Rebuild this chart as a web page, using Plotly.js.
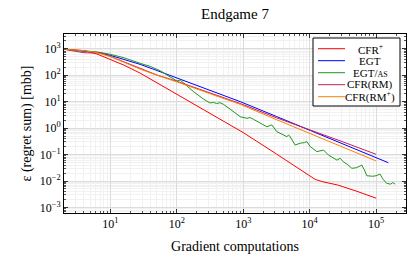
<!DOCTYPE html>
<html><head><meta charset="utf-8">
<script src="https://cdn.plot.ly/plotly-3.0.1.min.js"></script>
<style>html,body{margin:0;padding:0;background:#fff}</style>
</head><body><div id="chart" style="width:408px;height:259px"></div>
<script>
// ---- data ----
const seriesNames = ['CFR<sup>+</sup>', 'EGT', 'EGT/<span style="font-size:8px">AS</span>', 'CFR(RM)', 'CFR(RM<sup>+</sup>)'];
const seriesColors = ['#ff0000', '#0000ff', '#1f961f', '#bf2060', '#ff8000'];

const cfrPlusX = [2, 4, 6.3, 10, 16, 28, 100, 316, 1000, 3160, 7200, 12100, 15800, 26200, 50100, 100000];
const cfrPlusY = [955, 851, 631, 398, 240, 120, 19.1, 3.72, 0.676, 0.105, 0.0269, 0.0115, 0.00933, 0.00708, 0.00417, 0.00224];

const egtX = [2, 4, 6.3, 10, 16, 28, 50, 100, 316, 900, 3160, 10000, 31600, 153000];
const egtY = [955, 832, 724, 562, 398, 257, 151, 79.4, 26.9, 10.0, 2.75, 0.832, 0.251, 0.049];

const egtAsX = [2, 4, 6.3, 10, 16, 28, 40, 56, 71, 89, 100, 112, 126, 178, 251, 316, 355, 398, 447, 501, 631, 804, 902,
  1138, 1259, 1429, 1778, 2270, 2692, 3214, 3981, 4539, 4786, 5012, 6026, 7194, 8318, 9078, 10186, 12823, 16144,
  19187, 22387, 25704, 28774, 31989, 36308, 43152, 50119, 56234, 60954, 67608, 72444, 89125, 100000, 114815,
  125893, 144544, 165959, 177828, 193197];
const egtAsY = [955, 851, 759, 617, 457, 282, 214, 148, 105, 75.9, 60.3, 66.1, 50.1, 24.0, 12.6, 8.91, 9.33, 8.51, 9.12, 7.94, 5.25, 3.16, 2.69,
  2.34, 2.51, 2.14, 1.58, 1.12, 1.32, 0.724, 0.562, 0.468, 0.550, 0.501, 0.229, 0.269, 0.282, 0.309, 0.200, 0.129, 0.148,
  0.0955, 0.0759, 0.0617, 0.0724, 0.0537, 0.0437, 0.0302, 0.0316, 0.0355, 0.0398, 0.0240, 0.0158, 0.0151, 0.0158, 0.0182,
  0.0120, 0.00813, 0.00759, 0.00871, 0.00759];

const cfrRmX = [2, 2.82, 4, 5.62, 7.08, 10, 16, 28, 50, 100, 316, 900, 3160, 14400, 31600, 100000];
const cfrRmY = [955, 813, 708, 692, 708, 513, 316, 174, 102, 58.9, 21.4, 8.51, 2.45, 0.631, 0.302, 0.102];

const cfrRmPlusX = [2, 4, 6.3, 10, 16, 28, 50, 100, 316, 900, 3160, 10000, 31600, 100000];
const cfrRmPlusY = [955, 851, 708, 501, 309, 170, 100, 56.2, 19.95, 7.94, 2.09, 0.631, 0.191, 0.0575];

const xTickVals = [10, 100, 1000, 10000, 100000];
const xTickText = ['10<sup>1</sup>', '10<sup>2</sup>', '10<sup>3</sup>', '10<sup>4</sup>', '10<sup>5</sup>'];
const yTickVals = [0.001, 0.01, 0.1, 1, 10, 100, 1000];
const yTickText = ['10<sup>−3</sup>', '10<sup>−2</sup>', '10<sup>−1</sup>', '10<sup>0</sup>', '10<sup>1</sup>', '10<sup>2</sup>', '10<sup>3</sup>'];

// ---- build ----
const xs = [cfrPlusX, egtX, egtAsX, cfrRmX, cfrRmPlusX];
const ys = [cfrPlusY, egtY, egtAsY, cfrRmY, cfrRmPlusY];
const traces = xs.map((x, i) => ({
  x: x, y: ys[i], type: 'scatter', mode: 'lines', name: seriesNames[i],
  line: {color: seriesColors[i], width: 1}, showlegend: false, hoverinfo: 'skip'
}));

function minorVals(lo, hi) {
  const v = [];
  for (let n = lo; n <= hi; n++) for (let k = 2; k <= 9; k++) v.push(k * Math.pow(10, n));
  return v;
}

// legend geometry (plot area px: x 64..406, y 34..213)
const L = 64, W = 342, T = 34, H = 179;
const px = p => (p - L) / W;
const py = p => (T + H - p) / H;
const shapes = [{type: 'rect', xref: 'paper', yref: 'paper', x0: px(313), x1: px(400), y0: py(106), y1: py(38),
  line: {color: '#000', width: 1}, fillcolor: '#fff', layer: 'above'}];
const annotations = [];
seriesNames.forEach((nm, i) => {
  const yy = 48.7 + 12 * i;
  shapes.push({type: 'line', xref: 'paper', yref: 'paper', x0: px(318), x1: px(345), y0: py(yy), y1: py(yy),
    line: {color: seriesColors[i], width: 1}, layer: 'above'});
  annotations.push({xref: 'paper', yref: 'paper', x: px(370), y: py(yy), text: nm, showarrow: false,
    xanchor: 'center', yanchor: 'middle', font: {size: 11, color: '#000', family: 'Liberation Serif'}});
});

const axisCommon = {
  type: 'log', tickmode: 'array', ticks: 'inside', ticklen: 4, tickcolor: '#333', tickwidth: 1,
  mirror: 'allticks', showline: true, linecolor: '#000', linewidth: 1, gridcolor: '#dcdcdc', gridwidth: 1,
  zeroline: false, tickfont: {size: 12, color: '#000'}
};

const layout = {
  width: 408, height: 259,
  margin: {l: 64, r: 2, t: 34, b: 46},
  paper_bgcolor: '#fff', plot_bgcolor: '#fff',
  font: {family: 'Liberation Serif', color: '#000'},
  title: {text: 'Endgame 7', font: {size: 15}, x: 235 / 408, xanchor: 'center', xref: 'container',
    y: 1 - 14 / 259, yanchor: 'middle', yref: 'container'},
  xaxis: Object.assign({}, axisCommon, {
    range: [Math.log10(2), 5.45], tickvals: xTickVals, ticktext: xTickText,
    minor: {tickmode: 'array', tickvals: minorVals(0, 5), ticks: 'inside', ticklen: 2, tickcolor: '#555',
      showgrid: true, gridcolor: '#f1f1f1'},
    title: {text: 'Gradient computations', font: {size: 14}, standoff: 10}
  }),
  yaxis: Object.assign({}, axisCommon, {
    range: [-3.21, 3.558], tickvals: yTickVals, ticktext: yTickText,
    minor: {tickmode: 'array', tickvals: minorVals(-4, 3), ticks: 'inside', ticklen: 2, tickcolor: '#555',
      showgrid: true, gridcolor: '#f1f1f1'},
    title: {text: 'ε (regret sum) [mbb]', font: {size: 14}, standoff: 4}
  }),
  shapes: shapes, annotations: annotations, showlegend: false
};

Plotly.newPlot('chart', traces, layout, {staticPlot: true, displayModeBar: false});
</script></body></html>
